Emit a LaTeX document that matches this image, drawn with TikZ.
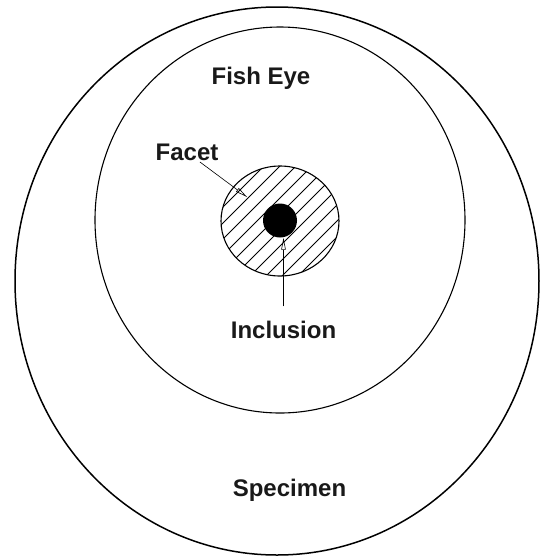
\documentclass[tikz,border=0pt]{standalone}
\usepackage{fontspec}
\setmainfont{Liberation Sans}
\usetikzlibrary{shapes.geometric,arrows.meta,calc}
\begin{document}
\begin{tikzpicture}[x=1pt,y=-1pt,
  lbl/.style={font=\fontsize{24}{28}\selectfont\bfseries, inner sep=1pt, text=black!90},
  ring/.style={draw, ellipse, inner sep=0pt},
  hatchline/.style={line width=0.9pt},
  arr/.style={line width=0.6pt, -{Triangle[open, length=12pt, width=4.5pt]}}]
\useasboundingbox (0,0) rectangle (541,558);
% specimen and fish eye
\node[ring, line width=1.5pt, minimum width=524pt, minimum height=548pt] (specimen) at (277,281) {};
\node[ring, line width=1.1pt, minimum width=370pt, minimum height=386pt] (fisheye) at (280,220) {};
% facet hatching
\begin{scope}
  \clip (280,221) ellipse [x radius=59, y radius=55];
  \foreach \k in {-1,...,8} {
    \draw[hatchline] ({446+16*\k-130},130) -- ({446+16*\k-310},310);
  }
\end{scope}
\node[ring, line width=1.1pt, minimum width=118pt, minimum height=110pt] (facet) at (280,221) {};
% inclusion
\node[circle, fill=black, inner sep=0pt, minimum size=34pt] (inclusion) at (280,220.5) {};
% labels
\node[lbl, anchor=base] (tfish) at (261,84) {Fish Eye};
\node[lbl, anchor=base] (tfacet) at (187,160.5) {Facet};
\node[lbl, anchor=base] (tincl) at (283.5,338) {Inclusion};
\node[lbl, anchor=base] (tspec) at (289.5,496) {Specimen};
% arrows
\coordinate (facettip) at (247,197);
\draw[arr] (tfacet) -- (facettip);
\draw[arr, shorten <=13pt] (tincl.north) -- (tincl.north |- inclusion.south);
\end{tikzpicture}
\end{document}
